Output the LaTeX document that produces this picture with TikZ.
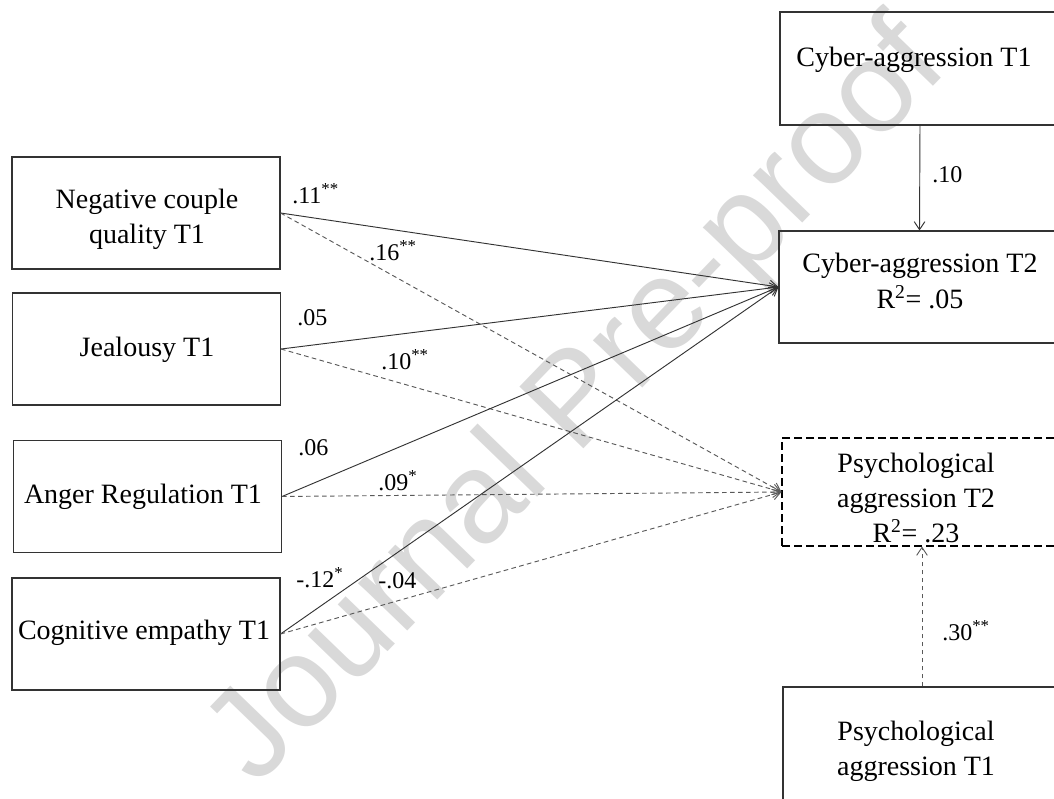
\documentclass[tikz,border=0pt]{standalone}
\usepackage{fontspec}
\setmainfont{Liberation Serif}
\newfontfamily\wmfont{Liberation Sans}
\usetikzlibrary{arrows.meta}
\begin{document}
\begin{tikzpicture}[x=0.75pt,y=-0.75pt,
  box/.style={draw=black!80, line width=0.8pt, inner sep=0pt},
  lbox/.style={box, minimum width=201pt, minimum height=84pt},
  boxtext/.style={font=\fontsize{21}{26.5}\selectfont, align=center, inner sep=0pt},
  coef/.style={font=\fontsize{18}{20}\selectfont, inner sep=0pt, anchor=base west},
  solidarrow/.style={draw=black!80, line width=0.7pt, -{Straight Barb[length=6pt,width=8pt]}},
  dasharrow/.style={draw=black!65, line width=0.7pt, dash pattern=on 3.5pt off 2.5pt, -{Straight Barb[length=6pt,width=8pt]}},
]
\useasboundingbox (0,0) rectangle (1054,799);

% watermark
\node[rotate=46, text=black!15, font=\wmfont\fontsize{97}{97}\selectfont, inner sep=0pt] (wm) at (580,405) {Journal Pre-proof};

% left boxes
\node[lbox] (neg) at (146,213) {};
\node[lbox] (jea) at (146.5,349) {};
\node[lbox] (ang) at (147.5,496.5) {};
\node[lbox] (cog) at (146,634) {};
\node[boxtext] (negt) at (147,219) {Negative couple\\quality T1};
\node[boxtext] (jeat) at (147,350) {Jealousy T1};
\node[boxtext] (angt) at (143,497) {Anger Regulation T1};
\node[boxtext] (cogt) at (144,633) {Cognitive empathy T1};

% right boxes
\node[box, minimum width=210pt, minimum height=84.75pt] (cyb1) at (920,68.5) {};
\node[box, minimum width=210.75pt, minimum height=84pt] (cyb2) at (919.5,287) {};
\node[box, draw=black, dash pattern=on 6pt off 3pt, minimum width=210pt, minimum height=81pt] (psy2) at (922,492) {};
\node[box, minimum width=208.5pt, minimum height=92.25pt] (psy1) at (922,748.5) {};
\node[boxtext] (cyb1t) at (914,60) {Cyber-aggression T1};
\node[boxtext] (cyb2t) at (920,281) {Cyber-aggression T2\\R\textsuperscript{2}= .05};
\node[boxtext] (psy2t) at (916,498) {Psychological\\aggression T2\\R\textsuperscript{2}= .23};
\node[boxtext] (psy1t) at (916,751) {Psychological\\aggression T1};

% paths
\draw[solidarrow] (neg.east) -- (cyb2.west);
\draw[dasharrow] (neg.east) -- (psy2.west);
\draw[solidarrow] (jea.east) -- (cyb2.west);
\draw[dasharrow] (jea.east) -- (psy2.west);
\draw[solidarrow] (ang.east) -- (cyb2.west);
\draw[dasharrow] (ang.east) -- (psy2.west);
\draw[solidarrow] (cog.east) -- (cyb2.west);
\draw[dasharrow] (cog.east) -- (psy2.west);
\draw[solidarrow] (cyb1.south) -- (cyb2.north);
\draw[dasharrow] (psy1.north) -- (psy2.south);

% coefficients
\node[coef] (c1) at (292,203) {.11\textsuperscript{**}};
\node[coef] (c2) at (369,260) {.16\textsuperscript{**}};
\node[coef] (c3) at (297,325) {.05};
\node[coef] (c4) at (381,369) {.10\textsuperscript{**}};
\node[coef] (c5) at (298,455) {.06};
\node[coef] (c6) at (378,490) {.09\textsuperscript{*}};
\node[coef] (c7) at (296,587) {-.12\textsuperscript{*}};
\node[coef] (c8) at (378,588) {-.04};
\node[coef] (c9) at (932,182) {.10};
\node[coef] (c10) at (942,640) {.30\textsuperscript{**}};
\end{tikzpicture}
\end{document}
